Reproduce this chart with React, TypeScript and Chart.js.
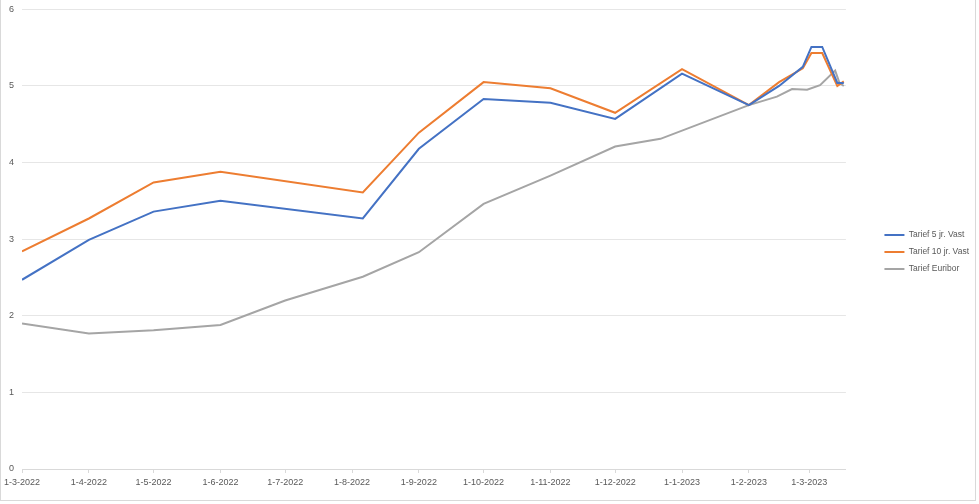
import React, { useEffect, useRef } from "react";
import { Chart, registerables } from "chart.js";

Chart.register(...registerables);

// Day offsets from 1-3-2022
const tickDays = [0, 31, 61, 92, 122, 153, 184, 214, 245, 275, 306, 337, 365];
const tickLabels = [
  "1-3-2022", "1-4-2022", "1-5-2022", "1-6-2022", "1-7-2022", "1-8-2022",
  "1-9-2022", "1-10-2022", "1-11-2022", "1-12-2022", "1-1-2023", "1-2-2023", "1-3-2023",
];

const vastDays = [0, 31, 61, 92, 158, 184, 214, 245, 275, 306, 337, 351, 362, 366, 371, 378, 381];
const vast5 = [2.47, 2.99, 3.36, 3.5, 3.27, 4.18, 4.83, 4.78, 4.57, 5.16, 4.75, 5.0, 5.25, 5.51, 5.51, 5.04, 5.04];
const vast10 = [2.84, 3.27, 3.74, 3.88, 3.61, 4.39, 5.05, 4.97, 4.65, 5.22, 4.75, 5.05, 5.23, 5.43, 5.43, 5.0, 5.06];

const euriborDays = [0, 31, 61, 92, 122, 158, 184, 214, 245, 275, 296, 337, 350, 357, 364, 370, 377, 379, 381];
const euribor = [1.9, 1.77, 1.81, 1.88, 2.2, 2.51, 2.83, 3.46, 3.83, 4.21, 4.31, 4.75, 4.86, 4.96, 4.95, 5.01, 5.2, 5.04, 5.0];

const seriesNames = ["Tarief 5 jr. Vast", "Tarief 10 jr. Vast", "Tarief Euribor"];
const seriesColors = ["#4472C4", "#ED7D31", "#A5A5A5"];

const toPoints = (days: number[], vals: number[]) => days.map((d, i) => ({ x: d, y: vals[i] }));

export default function App() {
  const ref = useRef<HTMLCanvasElement | null>(null);

  useEffect(() => {
    if (!ref.current) return;
    const family = "'Liberation Sans', Arial, sans-serif";
    const font = { family, size: 9 };
    const chart = new Chart(ref.current, {
      type: "line",
      data: {
        datasets: [
          { label: seriesNames[0], data: toPoints(vastDays, vast5) },
          { label: seriesNames[1], data: toPoints(vastDays, vast10) },
          { label: seriesNames[2], data: toPoints(euriborDays, euribor) },
        ].map((d, i) => ({
          ...d,
          borderColor: seriesColors[i],
          backgroundColor: seriesColors[i],
          borderWidth: 2,
          pointRadius: 0,
          tension: 0,
          xAxisID: "x",
          yAxisID: "y",
        })),
      },
      options: {
        animation: false,
        responsive: false,
        maintainAspectRatio: false,
        layout: { padding: { left: 1, right: 0, top: 0, bottom: 0 } },
        plugins: {
          tooltip: { enabled: false },
          legend: {
            position: "right",
            align: "center",
            labels: {
              usePointStyle: true,
              pointStyle: "line",
              pointStyleWidth: 20,
              boxWidth: 20,
              boxHeight: 8,
              padding: 8.5,
              color: "#595959",
              font: { family, size: 8.5 },
            },
          },
        },
        scales: {
          x: {
            type: "linear",
            min: 0,
            max: 382,
            afterBuildTicks: (axis: any) => {
              axis.ticks = tickDays.map((v) => ({ value: v }));
            },
            afterFit: (scale: any) => {
              scale.height = 35;
            },
            ticks: {
              autoSkip: false,
              maxRotation: 0,
              color: "#595959",
              font,
              padding: 4,
              callback: (value: any) => {
                const idx = tickDays.indexOf(Number(value));
                return idx >= 0 ? tickLabels[idx] : "";
              },
            },
            grid: {
              drawOnChartArea: false,
              drawTicks: true,
              tickLength: 4,
              color: "#d9d9d9",
            },
            border: { display: true, color: "#d9d9d9" },
          },
          y: {
            type: "linear",
            min: 0,
            max: 6,
            ticks: { stepSize: 1, color: "#595959", font: { family, size: 9, lineHeight: 0.3 }, padding: 8 },
            grid: { color: "#e6e6e6", drawTicks: false },
            border: { display: false },
          },
          pad: {
            type: "linear",
            position: "right",
            display: true,
            ticks: { display: false },
            grid: { display: false, drawTicks: false },
            border: { display: false },
            afterFit: (scale: any) => {
              scale.width = 30;
            },
          },
        },
      } as any,
    });
    return () => chart.destroy();
  }, []);

  return (
    <div style={{ position: "absolute", left: 0, top: 0, width: 979, height: 504, background: "#fff" }}>
      <div
        style={{
          position: "absolute",
          left: 0,
          top: 0,
          width: 974,
          height: 500,
          borderLeft: "1px solid #d9d9d9",
          borderRight: "1px solid #d9d9d9",
          borderBottom: "1px solid #d9d9d9",
        }}
      />
      <canvas ref={ref} width={979} height={504} style={{ position: "absolute", left: 0, top: 0, width: 979, height: 504 }} />
    </div>
  );
}
